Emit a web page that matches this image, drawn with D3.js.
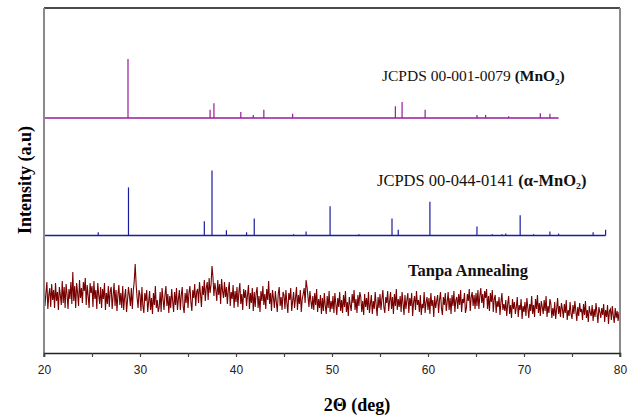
<!DOCTYPE html>
<html>
<head>
<meta charset="utf-8">
<script src="https://cdn.jsdelivr.net/npm/d3@7"></script>
<style>
body { margin: 0; background: #fff; }
</style>
</head>
<body>
<script>
// JCPDS 00-001-0079 (MnO2): 2theta and relative intensity (%)
const mno2Pos = [28.75, 37.3, 37.7, 40.5, 41.8, 42.9, 45.9, 56.6, 57.3, 59.7, 65.1, 66.0, 68.4, 71.7, 72.7];
const mno2Int = [100, 14, 25, 10, 5, 14, 7, 20, 27, 14, 5, 5, 3, 8, 7];
const mno2End = 73.6;

// JCPDS 00-044-0141 (alpha-MnO2)
const alphaPos = [25.65, 28.8, 36.7, 37.5, 39.0, 41.1, 41.9, 46.0, 47.3, 49.8, 52.8, 56.25, 56.9, 60.2,
  65.1, 66.7, 67.7, 68.1, 69.6, 71.0, 72.7, 73.6, 77.2, 78.5];
const alphaInt = [5, 74, 22, 100, 8, 5, 26, 2, 6, 45, 2, 26, 9, 52, 14, 2, 2, 3, 31, 2, 6, 3, 5, 9];
const alphaEnd = 78.5;

// Tanpa Annealing scan, 20.0 .. 80.0 deg every 0.1 deg (a.u.)
const scanStart = 20;
const scanStep = 0.1;
const scanInt = [
  68, 47, 60, 71, 44, 58, 65, 46, 69, 53,
  63, 45, 70, 52, 61, 43, 66, 58, 48, 72,
  50, 66, 45, 69, 59, 44, 64, 54, 71, 49,
  81, 52, 67, 45, 70, 60, 47, 73, 55, 65,
  50, 71, 62, 75, 48, 68, 57, 45, 70, 60,
  67, 46, 72, 54, 63, 44, 70, 58, 49, 66,
  45, 64, 54, 70, 43, 60, 49, 67, 46, 62,
  66, 44, 57, 70, 47, 63, 42, 58, 68, 48,
  60, 45, 67, 43, 56, 64, 41, 53, 66, 57,
  47, 65, 44, 62, 72, 89, 68, 55, 45, 63,
  58, 42, 66, 47, 40, 60, 52, 63, 41, 51,
  62, 43, 55, 39, 60, 48, 67, 45, 53, 41,
  46, 61, 41, 65, 54, 43, 58, 67, 47, 59,
  40, 57, 45, 64, 52, 41, 61, 48, 65, 43,
  54, 63, 43, 58, 66, 46, 40, 60, 50, 64,
  45, 60, 67, 51, 42, 63, 55, 69, 47, 61,
  64, 50, 71, 59, 46, 67, 58, 73, 52, 65,
  71, 53, 75, 60, 68, 87, 76, 57, 70, 63,
  52, 73, 58, 69, 49, 74, 62, 55, 71, 56,
  66, 49, 63, 71, 47, 61, 54, 68, 45, 62,
  51, 66, 46, 61, 70, 49, 59, 43, 64, 55,
  63, 47, 58, 68, 44, 60, 50, 65, 42, 61,
  46, 60, 66, 45, 57, 41, 62, 52, 67, 48,
  59, 44, 64, 53, 72, 49, 60, 42, 63, 55,
  45, 62, 51, 41, 59, 66, 47, 56, 43, 61,
  58, 44, 63, 50, 40, 60, 53, 65, 42, 52,
  61, 45, 55, 66, 43, 58, 49, 63, 41, 54,
  59, 65, 50, 73, 66, 56, 46, 62, 52, 44,
  57, 43, 60, 48, 64, 41, 54, 45, 58, 39,
  55, 42, 60, 47, 39, 57, 45, 62, 41, 52,
  44, 57, 40, 60, 49, 38, 55, 46, 61, 42,
  53, 40, 58, 46, 62, 41, 51, 37, 56, 48,
  42, 59, 50, 63, 43, 54, 40, 58, 47, 61,
  56, 41, 52, 38, 59, 46, 55, 43, 61, 40,
  49, 58, 39, 52, 44, 61, 48, 37, 56, 45,
  59, 43, 54, 63, 46, 40, 56, 50, 62, 42,
  52, 61, 44, 56, 39, 59, 47, 64, 43, 54,
  46, 57, 41, 61, 50, 38, 58, 44, 53, 60,
  40, 55, 47, 60, 37, 51, 57, 43, 62, 48,
  53, 41, 58, 38, 49, 45, 61, 40, 51, 56,
  43, 55, 39, 60, 47, 53, 36, 57, 45, 52,
  58, 40, 53, 61, 45, 38, 56, 48, 60, 42,
  51, 61, 43, 55, 39, 58, 47, 62, 41, 53,
  56, 44, 59, 48, 63, 41, 54, 50, 60, 40,
  45, 59, 52, 64, 42, 56, 61, 47, 58, 44,
  60, 47, 63, 44, 57, 65, 50, 59, 45, 62,
  55, 64, 44, 57, 42, 60, 51, 63, 41, 54,
  58, 40, 52, 46, 56, 38, 51, 60, 43, 49,
  42, 53, 37, 49, 57, 39, 48, 35, 54, 44,
  51, 39, 46, 56, 36, 48, 43, 54, 34, 47,
  41, 51, 37, 55, 45, 35, 49, 42, 57, 39,
  48, 36, 54, 44, 58, 40, 50, 37, 52, 46,
  39, 53, 42, 57, 36, 47, 40, 54, 49, 35,
  45, 37, 51, 34, 44, 55, 39, 47, 36, 50,
  44, 35, 49, 40, 53, 33, 43, 37, 51, 39,
  34, 48, 39, 52, 42, 32, 46, 37, 50, 41,
  44, 33, 49, 38, 52, 35, 43, 31, 47, 40,
  37, 48, 32, 44, 36, 50, 40, 30, 46, 41,
  35, 45, 38, 49, 31, 43, 36, 48, 29, 42,
  44, 33, 47, 37, 30, 45, 35, 42, 32, 41,
  38
];

const xTicks = [20, 25, 30, 35, 40, 45, 50, 55, 60, 65, 70, 75, 80];

const w = 629;
const h = 417;
const plotL = 44, plotR = 620, plotT = 8, plotB = 353;

const svg = d3.select("body")
  .append("svg")
  .attr("width", w)
  .attr("height", h);

const x = d3.scaleLinear().domain([20, 80]).range([plotL, plotR]);
// each pattern sits on its own offset baseline
const yMn = d3.scaleLinear().domain([0, 100]).range([118, 59]);
const yAl = d3.scaleLinear().domain([0, 100]).range([235.5, 170.5]);
const yScan = d3.scaleLinear().domain([0, 345]).range([plotB, plotT]);

// noisy scan
const scan = scanInt.map((v, i) => [scanStart + i * scanStep, v]);
svg.append("path")
  .datum(scan)
  .attr("fill", "none")
  .attr("stroke", "#780000")
  .attr("stroke-width", 1.1)
  .attr("d", d3.line().x(d => x(d[0])).y(d => yScan(d[1])));

// stick patterns
function sticks(pos, ints, y, end, color) {
  const g = svg.append("g").attr("stroke", color);
  g.append("line")
    .attr("x1", x(20)).attr("x2", x(end))
    .attr("y1", y(0)).attr("y2", y(0))
    .attr("stroke-width", 1.3);
  g.selectAll("line.stick")
    .data(pos.map((p, i) => [p, ints[i]]))
    .enter()
    .append("line")
    .attr("class", "stick")
    .attr("x1", d => x(d[0])).attr("x2", d => x(d[0]))
    .attr("y1", y(0)).attr("y2", d => y(d[1]))
    .attr("stroke-width", 1.2);
}
sticks(mno2Pos, mno2Int, yMn, mno2End, "#9a1a9a");
sticks(alphaPos, alphaInt, yAl, alphaEnd, "#1c1c9e");

// frame
svg.append("line").attr("x1", plotL).attr("x2", plotR).attr("y1", plotT).attr("y2", plotT)
  .attr("stroke", "#111").attr("stroke-width", 1.5);
svg.append("line").attr("x1", plotL).attr("x2", plotL).attr("y1", plotT).attr("y2", plotB + 4)
  .attr("stroke", "#8a8a8a").attr("stroke-width", 2);
svg.append("line").attr("x1", plotR).attr("x2", plotR).attr("y1", plotT).attr("y2", plotB + 4)
  .attr("stroke", "#8a8a8a").attr("stroke-width", 2);

// x axis
const xAxis = svg.append("g")
  .attr("transform", `translate(0,${plotB})`)
  .call(d3.axisBottom(x)
    .tickValues(xTicks)
    .tickSize(4)
    .tickFormat(d => d % 10 === 0 ? d : ""));
xAxis.select(".domain").attr("stroke", "#222").attr("stroke-width", 1.5);
xAxis.selectAll(".tick line").attr("stroke", "#444").attr("stroke-width", 1.2);
xAxis.selectAll(".tick text")
  .attr("y", 12)
  .attr("font-family", "Liberation Sans, Arial, sans-serif")
  .attr("font-size", "12px")
  .attr("fill", "#222");

// axis titles
const serif = "Liberation Serif, Times New Roman, serif";
svg.append("text")
  .attr("x", 357).attr("y", 411)
  .attr("text-anchor", "middle")
  .attr("font-family", serif)
  .attr("font-weight", "bold")
  .attr("font-size", "18px")
  .text("2Θ (deg)");

svg.append("text")
  .attr("transform", "translate(31,180) rotate(-90)")
  .attr("text-anchor", "middle")
  .attr("font-family", serif)
  .attr("font-weight", "bold")
  .attr("font-size", "18px")
  .text("Intensity (a.u)");

// pattern labels
const t1 = svg.append("text")
  .attr("x", 382).attr("y", 81)
  .attr("font-family", serif).attr("font-size", "15.5px").attr("fill", "#111");
t1.append("tspan").text("JCPDS 00-001-0079 ");
t1.append("tspan").attr("font-weight", "bold").text("(MnO");
t1.append("tspan").attr("font-weight", "bold").attr("font-size", "9px").attr("dy", 4).text("2");
t1.append("tspan").attr("font-weight", "bold").attr("dy", -4).text(")");

const t2 = svg.append("text")
  .attr("x", 377).attr("y", 186)
  .attr("font-family", serif).attr("font-size", "16.5px").attr("fill", "#111");
t2.append("tspan").text("JCPDS 00-044-0141 ");
t2.append("tspan").attr("font-weight", "bold").text("(α-MnO₂)");

svg.append("text")
  .attr("x", 408).attr("y", 276)
  .attr("font-family", serif)
  .attr("font-weight", "bold")
  .attr("font-size", "16.5px")
  .attr("fill", "#111")
  .text("Tanpa Annealing");
</script>
</body>
</html>
